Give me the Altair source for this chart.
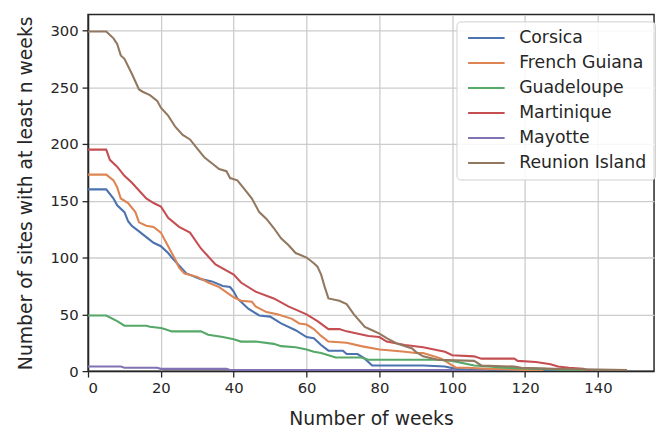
import altair as alt
import pandas as pd

regions = ["Corsica", "French Guiana", "Guadeloupe", "Martinique", "Mayotte", "Reunion Island"]
colors = ["#4c72b0", "#dd8452", "#55a868", "#c44e52", "#8172b3", "#937860"]

corsica_w = [0, 5, 7, 8, 10, 11, 12, 14, 16, 18, 20, 22, 23, 25, 27, 31, 34, 37, 39, 40, 41, 43, 44, 47, 50, 53, 57, 60, 62, 64, 66, 70, 71, 74, 76, 78, 92, 98, 101, 105, 125, 130]
corsica_v = [160, 160, 152, 146, 140, 132, 128, 123, 118, 113, 110, 104, 100, 93, 86, 81, 79, 75, 74, 70, 64, 58, 55, 49, 48, 42, 36, 30, 29, 23, 18, 18, 15, 15, 11, 5, 5, 4, 2, 1, 1, 0]

guiana_w = [0, 5, 7, 8, 9, 11, 13, 14, 16, 18, 20, 22, 24, 25, 26.5, 30, 33, 36, 40, 42, 45, 46, 49, 52, 56, 58, 60, 62, 64, 66, 71, 75, 80, 84, 87, 90, 92, 94, 97, 100, 101, 104, 110, 120, 125]
guiana_v = [173, 173, 168, 162, 152, 148, 140, 131, 128, 127, 122, 110, 98, 91, 86, 83, 78, 74, 65, 62, 61, 57, 52, 50, 46, 42, 41, 37, 31, 26, 25, 22, 19, 18, 17, 16, 16, 14, 11, 5, 3, 3, 2, 1, 0]

guadeloupe_w = [0, 5, 8, 10, 16, 17, 20, 21, 23, 29, 31, 33, 37, 40, 42, 46, 51, 53, 57, 60, 62, 64, 66, 68, 75, 77, 92, 96, 100, 106, 110, 114, 125, 137]
guadeloupe_v = [49, 49, 44, 40, 40, 39, 38, 37, 35, 35, 35, 32, 30, 28, 26, 26, 24, 22, 21, 19, 17, 16, 14, 12, 12, 10, 10, 10, 9, 5, 4, 3, 2, 0]

martinique_w = [0, 5, 6, 8, 10, 12, 14, 16, 18, 20, 22, 25, 28, 31, 35, 40, 42, 46, 51, 55, 60, 63, 66, 69, 71, 77, 80, 82, 87, 92, 98, 100, 106, 108, 117, 118, 123, 127, 129, 132, 136, 138]
martinique_v = [195, 195, 186, 180, 172, 166, 159, 152, 148, 145, 135, 127, 122, 108, 94, 85, 78, 70, 64, 57, 50, 44, 37, 37, 35, 31, 30, 26, 23, 21, 17, 14, 13, 11, 11, 9, 8, 6, 4, 3, 2, 0]

mayotte_w = [0, 9, 10, 19, 20, 38, 39, 100, 101, 110]
mayotte_v = [4, 4, 3, 3, 2, 2, 1, 1, 0, 0]

reunion_w = [0, 5, 7, 8, 9, 10, 12, 14, 15, 17, 19, 20, 22, 24, 26, 28, 30, 32, 34, 36, 38, 39, 41, 43, 45, 47, 49, 51, 53, 55, 57, 60, 62, 63, 64, 65, 66, 69, 71, 73, 76, 78, 80, 82, 85, 89, 90, 92, 96, 106, 108, 117, 119, 128, 148]
reunion_v = [299, 299, 293, 288, 278, 275, 262, 248, 246, 243, 238, 232, 225, 215, 208, 204, 196, 188, 183, 178, 176, 170, 168, 160, 152, 140, 134, 126, 117, 111, 104, 100, 95, 92, 85, 74, 64, 62, 59, 50, 39, 36, 33, 29, 24, 20, 17, 13, 10, 9, 5, 4, 3, 2, 1]

x_ticks = [0, 20, 40, 60, 80, 100, 120, 140]
y_ticks = [0, 50, 100, 150, 200, 250, 300]

series = [
    ("Corsica", corsica_w, corsica_v),
    ("French Guiana", guiana_w, guiana_v),
    ("Guadeloupe", guadeloupe_w, guadeloupe_v),
    ("Martinique", martinique_w, martinique_v),
    ("Mayotte", mayotte_w, mayotte_v),
    ("Reunion Island", reunion_w, reunion_v),
]
rows = []
for name, ws, vs in series:
    for w, v in zip(ws, vs):
        rows.append({"region": name, "week": w, "sites": v})
df = pd.DataFrame(rows)

FONT = "DejaVu Sans"
INK = "#262626"

chart = alt.Chart(df).mark_line(strokeWidth=2.1, clip=True).encode(
    x=alt.X("week:Q",
            scale=alt.Scale(domain=[0, 155.4], nice=False, zero=False),
            axis=alt.Axis(values=x_ticks, title="Number of weeks", titlePadding=14)),
    y=alt.Y("sites:Q",
            scale=alt.Scale(domain=[0, 314], nice=False),
            axis=alt.Axis(values=y_ticks, title="Number of sites with at least n weeks", titlePadding=15)),
    color=alt.Color("region:N",
                    scale=alt.Scale(domain=regions, range=colors),
                    legend=alt.Legend(title=None, orient="none", legendX=373, legendY=7,
                                      symbolType="M-3.7,0H3.7", symbolSize=100, symbolStrokeWidth=2,
                                      symbolOffset=13.5,
                                      labelFontSize=17.5, labelFont=FONT, labelColor=INK,
                                      labelOffset=24.5, padding=8, rowPadding=6.3,
                                      strokeColor="#d0d0d0", fillColor="rgba(255,255,255,0.85)",
                                      cornerRadius=4)),
    detail="region:N",
).properties(
    width=573, height=361,
    autosize=alt.AutoSizeParams(type="none"),
    padding={"left": 81, "top": 4, "right": 3, "bottom": 56},
).configure_view(
    stroke=INK, strokeWidth=1.5
).configure_axis(
    grid=True, gridColor="#cccccc", gridWidth=1.3,
    domainColor=INK, domainWidth=1.5,
    tickColor=INK, tickSize=6, tickWidth=1.3,
    labelFont=FONT, labelFontSize=15, labelColor=INK, labelPadding=4,
    titleFont=FONT, titleFontSize=19, titleFontWeight="normal", titleColor=INK,
)

chart.save("out.html", embed_options={"renderer": "svg", "actions": False})
